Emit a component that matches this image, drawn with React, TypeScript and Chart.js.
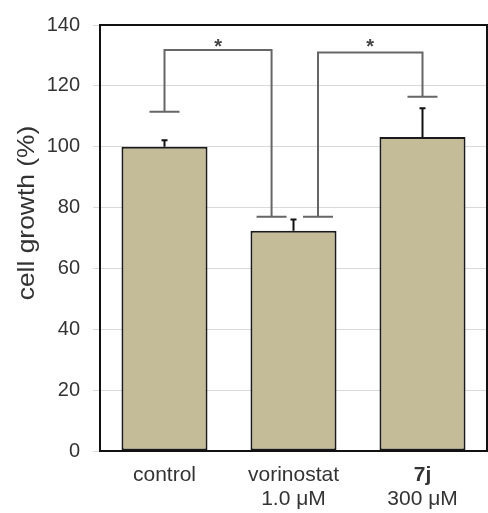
import React, { useEffect, useRef } from "react";
import { Chart, registerables } from "chart.js";

Chart.register(...registerables);

// ---- data ----
const categories = ["control", "vorinostat", "7j"];
const labelLine1 = ["control", "vorinostat", "7j"];
const labelLine2 = ["", "1.0 μM", "300 μM"];
const labelBold = [false, false, true];
const growth = [100, 72.4, 103.2];
const errorUpper = [102.1, 76.1, 112.6];
const yTicks = [0, 20, 40, 60, 80, 100, 120, 140];
const yTitle = "cell growth (%)";

// significance brackets (x in category index units, y in value units)
const bracketFrom = [0, 1.19];
const bracketTo = [0.83, 2];
const bracketLeftBottom = [111.5, 77];
const bracketRightBottom = [77, 116.4];
const bracketTop = [131.8, 131];
const bracketLabel = ["*", "*"];

const FONT = "'Liberation Sans', Arial, sans-serif";

const overlayPlugin = {
  id: "overlay",
  afterDatasetsDraw(chart: any) {
    const { ctx, chartArea } = chart;
    const x = chart.scales.x;
    const y = chart.scales.y;
    ctx.save();
    // error bars
    ctx.strokeStyle = "#111";
    ctx.lineWidth = 2;
    growth.forEach((v, i) => {
      const cx = x.getPixelForValue(i);
      const y0 = y.getPixelForValue(v);
      const y1 = y.getPixelForValue(errorUpper[i]);
      ctx.beginPath();
      ctx.moveTo(cx, y0);
      ctx.lineTo(cx, y1);
      ctx.moveTo(cx - 3, y1);
      ctx.lineTo(cx + 3, y1);
      ctx.stroke();
    });
    // brackets
    ctx.strokeStyle = "#666";
    ctx.lineWidth = 2;
    const yStar = y.getPixelForValue(Math.max(...bracketTop));
    bracketFrom.forEach((f, i) => {
      const xl = x.getPixelForValue(f);
      const xr = x.getPixelForValue(bracketTo[i]);
      const yl = y.getPixelForValue(bracketLeftBottom[i]);
      const yr = y.getPixelForValue(bracketRightBottom[i]);
      const yt = y.getPixelForValue(bracketTop[i]);
      ctx.beginPath();
      ctx.moveTo(xl, yl);
      ctx.lineTo(xl, yt);
      ctx.lineTo(xr, yt);
      ctx.lineTo(xr, yr);
      ctx.moveTo(xl - 15, yl);
      ctx.lineTo(xl + 15, yl);
      ctx.moveTo(xr - 15, yr);
      ctx.lineTo(xr + 15, yr);
      ctx.stroke();
      ctx.fillStyle = "#444";
      ctx.font = `bold 20px ${FONT}`;
      ctx.textAlign = "center";
      ctx.textBaseline = "alphabetic";
      ctx.fillText(bracketLabel[i], (xl + xr) / 2, yStar + 3);
    });
    // frame
    ctx.strokeStyle = "#111";
    ctx.lineWidth = 2;
    ctx.strokeRect(
      chartArea.left,
      chartArea.top,
      chartArea.right - chartArea.left,
      chartArea.bottom - chartArea.top
    );
    ctx.restore();
  },
  afterDraw(chart: any) {
    const { ctx, chartArea } = chart;
    const x = chart.scales.x;
    ctx.save();
    ctx.fillStyle = "#333";
    ctx.textAlign = "center";
    ctx.textBaseline = "alphabetic";
    labelLine1.forEach((t, i) => {
      const cx = x.getPixelForValue(i);
      ctx.font = `${labelBold[i] ? "bold " : ""}21px ${FONT}`;
      ctx.fillText(t, cx, chartArea.bottom + 30);
      ctx.font = `21px ${FONT}`;
      if (labelLine2[i]) ctx.fillText(labelLine2[i], cx, chartArea.bottom + 54);
    });
    // y title
    ctx.translate(27, 213);
    ctx.rotate(-Math.PI / 2);
    ctx.scale(1.1, 1);
    ctx.textBaseline = "middle";
    ctx.font = `24px ${FONT}`;
    ctx.fillText(yTitle, 0, 0);
    ctx.restore();
  },
};

export default function App() {
  const ref = useRef<HTMLCanvasElement>(null);
  useEffect(() => {
    document.body.style.margin = "0";
    const chart = new Chart(ref.current!, {
      type: "bar",
      data: {
        labels: categories,
        datasets: [
          {
            data: growth,
            backgroundColor: "#c4bc98",
            borderColor: "#1a1a1a",
            borderWidth: 2,
            borderSkipped: false,
            categoryPercentage: 1,
            barPercentage: 0.667,
          },
        ],
      },
      options: {
        animation: false,
        responsive: true,
        maintainAspectRatio: false,
        layout: { padding: { top: 22, right: 1, left: 0, bottom: 0 } },
        plugins: { legend: { display: false }, tooltip: { enabled: false } },
        scales: {
          x: {
            grid: { display: false },
            border: { display: false },
            ticks: { display: false },
            afterFit: (s: any) => {
              s.height = 62;
            },
          },
          y: {
            min: 0,
            max: 140,
            afterBuildTicks: (s: any) => {
              s.ticks = yTicks.map((v) => ({ value: v }));
            },
            grid: { color: "#d9d9d9", lineWidth: 1, tickLength: 7 },
            border: { display: false },
            ticks: {
              padding: 13,
              color: "#333",
              font: { family: FONT, size: 20 },
            },
            afterFit: (s: any) => {
              s.width = 100;
            },
          },
        },
      },
      plugins: [overlayPlugin],
    });
    return () => chart.destroy();
  }, []);
  return (
    <div style={{ position: "fixed", left: 0, top: 0, width: 488, height: 513 }}>
      <canvas ref={ref} />
    </div>
  );
}
